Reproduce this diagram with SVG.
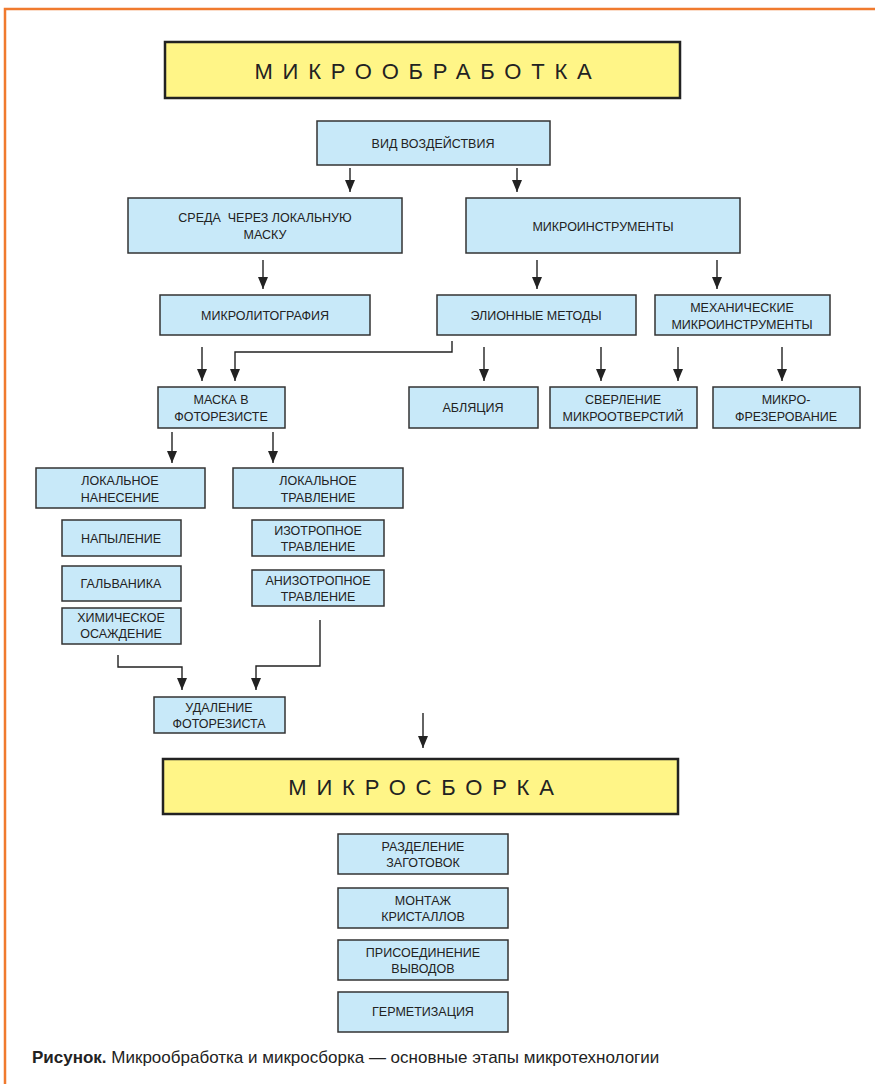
<svg xmlns="http://www.w3.org/2000/svg" width="875" height="1084" viewBox="0 0 875 1084">
<style>
.b{fill:#C8E9F9;stroke:#333;stroke-width:1.5}
.y{fill:#FFF587;stroke:#222;stroke-width:2.5}
.t{font-family:"Liberation Sans",Arial,sans-serif;font-size:12.5px;fill:#222;text-anchor:middle}
.h{font-family:"Liberation Sans",Arial,sans-serif;font-size:22px;fill:#222;text-anchor:middle;letter-spacing:9.8px}
.c{fill:none;stroke:#222;stroke-width:1.4}
.cap{font-family:"Liberation Sans",Arial,sans-serif;font-size:17px;fill:#222}
</style>
<defs>
<marker id="ar" viewBox="0 0 12 10" refX="12" refY="5" markerWidth="12" markerHeight="10" markerUnits="userSpaceOnUse" orient="auto">
<path d="M0,0 L12,5 L0,10 Z" fill="#222"/>
</marker>
</defs>
<rect width="875" height="1084" fill="#fff"/>
<path d="M875,9 H5 V1084" fill="none" stroke="#F07A2E" stroke-width="2.5"/>

<g id="n_microobr"><rect class="y" x="165" y="42" width="515" height="56"/><text class="h" x="428" y="79">МИКРООБРАБОТКА</text></g>
<g id="n_vid"><rect class="b" x="317" y="121" width="233" height="44"/><text class="t" x="433" y="148">ВИД ВОЗДЕЙСТВИЯ</text></g>
<g id="n_sreda"><rect class="b" x="128" y="198" width="274" height="55"/><text class="t" x="265" y="222" style="white-space:pre">СРЕДА  ЧЕРЕЗ ЛОКАЛЬНУЮ</text><text class="t" x="265" y="239">МАСКУ</text></g>
<g id="n_microinstr"><rect class="b" x="466" y="198" width="274" height="55"/><text class="t" x="603" y="231">МИКРОИНСТРУМЕНТЫ</text></g>
<g id="n_litogr"><rect class="b" x="160" y="295" width="210" height="40"/><text class="t" x="265" y="320">МИКРОЛИТОГРАФИЯ</text></g>
<g id="n_elion"><rect class="b" x="437" y="295" width="199" height="40"/><text class="t" x="536" y="320">ЭЛИОННЫЕ МЕТОДЫ</text></g>
<g id="n_mech"><rect class="b" x="655" y="295" width="175" height="40"/><text class="t" x="742" y="312">МЕХАНИЧЕСКИЕ</text><text class="t" x="742" y="329">МИКРОИНСТРУМЕНТЫ</text></g>
<g id="n_maska"><rect class="b" x="158" y="387" width="127" height="41"/><text class="t" x="221" y="404">МАСКА В</text><text class="t" x="221" y="421">ФОТОРЕЗИСТЕ</text></g>
<g id="n_ablac"><rect class="b" x="409" y="387" width="129" height="41"/><text class="t" x="473" y="412">АБЛЯЦИЯ</text></g>
<g id="n_sverl"><rect class="b" x="550" y="387" width="147" height="41"/><text class="t" x="623" y="404">СВЕРЛЕНИЕ</text><text class="t" x="623" y="421">МИКРООТВЕРСТИЙ</text></g>
<g id="n_frez"><rect class="b" x="713" y="387" width="147" height="41"/><text class="t" x="786" y="404">МИКРО-</text><text class="t" x="786" y="421">ФРЕЗЕРОВАНИЕ</text></g>
<g id="n_lnan"><rect class="b" x="36" y="468" width="169" height="40"/><text class="t" x="120" y="485">ЛОКАЛЬНОЕ</text><text class="t" x="120" y="502">НАНЕСЕНИЕ</text></g>
<g id="n_ltrav"><rect class="b" x="233" y="468" width="170" height="40"/><text class="t" x="318" y="485">ЛОКАЛЬНОЕ</text><text class="t" x="318" y="502">ТРАВЛЕНИЕ</text></g>
<g id="n_napyl"><rect class="b" x="62" y="520" width="119" height="36"/><text class="t" x="121" y="543">НАПЫЛЕНИЕ</text></g>
<g id="n_izo"><rect class="b" x="252" y="520" width="132" height="36"/><text class="t" x="318" y="535">ИЗОТРОПНОЕ</text><text class="t" x="318" y="551">ТРАВЛЕНИЕ</text></g>
<g id="n_galv"><rect class="b" x="62" y="566" width="119" height="35"/><text class="t" x="121" y="588">ГАЛЬВАНИКА</text></g>
<g id="n_anizo"><rect class="b" x="252" y="570" width="132" height="36"/><text class="t" x="318" y="585">АНИЗОТРОПНОЕ</text><text class="t" x="318" y="601">ТРАВЛЕНИЕ</text></g>
<g id="n_him"><rect class="b" x="62" y="608" width="119" height="36"/><text class="t" x="121" y="622">ХИМИЧЕСКОЕ</text><text class="t" x="121" y="638">ОСАЖДЕНИЕ</text></g>
<g id="n_udal"><rect class="b" x="154" y="697" width="131" height="36"/><text class="t" x="219" y="712">УДАЛЕНИЕ</text><text class="t" x="219" y="728">ФОТОРЕЗИСТА</text></g>
<g id="n_microsb"><rect class="y" x="163" y="759" width="515" height="55"/><text class="h" x="426" y="795">МИКРОСБОРКА</text></g>
<g id="n_razd"><rect class="b" x="338" y="834" width="170" height="40"/><text class="t" x="423" y="851">РАЗДЕЛЕНИЕ</text><text class="t" x="423" y="867">ЗАГОТОВОК</text></g>
<g id="n_mont"><rect class="b" x="338" y="888" width="170" height="40"/><text class="t" x="423" y="905">МОНТАЖ</text><text class="t" x="423" y="921">КРИСТАЛЛОВ</text></g>
<g id="n_pris"><rect class="b" x="338" y="940" width="170" height="40"/><text class="t" x="423" y="957">ПРИСОЕДИНЕНИЕ</text><text class="t" x="423" y="973">ВЫВОДОВ</text></g>
<g id="n_germ"><rect class="b" x="338" y="992" width="170" height="40"/><text class="t" x="423" y="1016">ГЕРМЕТИЗАЦИЯ</text></g>

<g id="connectors">
<path class="c" d="M350,168 V192" marker-end="url(#ar)"/>
<path class="c" d="M517,168 V192" marker-end="url(#ar)"/>
<path class="c" d="M263,260 V289" marker-end="url(#ar)"/>
<path class="c" d="M537,260 V289" marker-end="url(#ar)"/>
<path class="c" d="M717,260 V289" marker-end="url(#ar)"/>
<path class="c" d="M202,347 V381" marker-end="url(#ar)"/>
<path class="c" d="M452,341 V352 H235 V381" marker-end="url(#ar)"/>
<path class="c" d="M484,347 V381" marker-end="url(#ar)"/>
<path class="c" d="M601,347 V381" marker-end="url(#ar)"/>
<path class="c" d="M678,347 V381" marker-end="url(#ar)"/>
<path class="c" d="M782,347 V381" marker-end="url(#ar)"/>
<path class="c" d="M172,432 V463" marker-end="url(#ar)"/>
<path class="c" d="M273,432 V463" marker-end="url(#ar)"/>
<path class="c" d="M118,655 V667 H182 V690" marker-end="url(#ar)"/>
<path class="c" d="M320,620 V666 H256 V690" marker-end="url(#ar)"/>
<path class="c" d="M423,713 V748" marker-end="url(#ar)"/>
</g>

<text class="cap" x="32" y="1063"><tspan font-weight="bold">Рисунок.</tspan> Микрообработка и микросборка — основные этапы микротехнологии</text>
</svg>
